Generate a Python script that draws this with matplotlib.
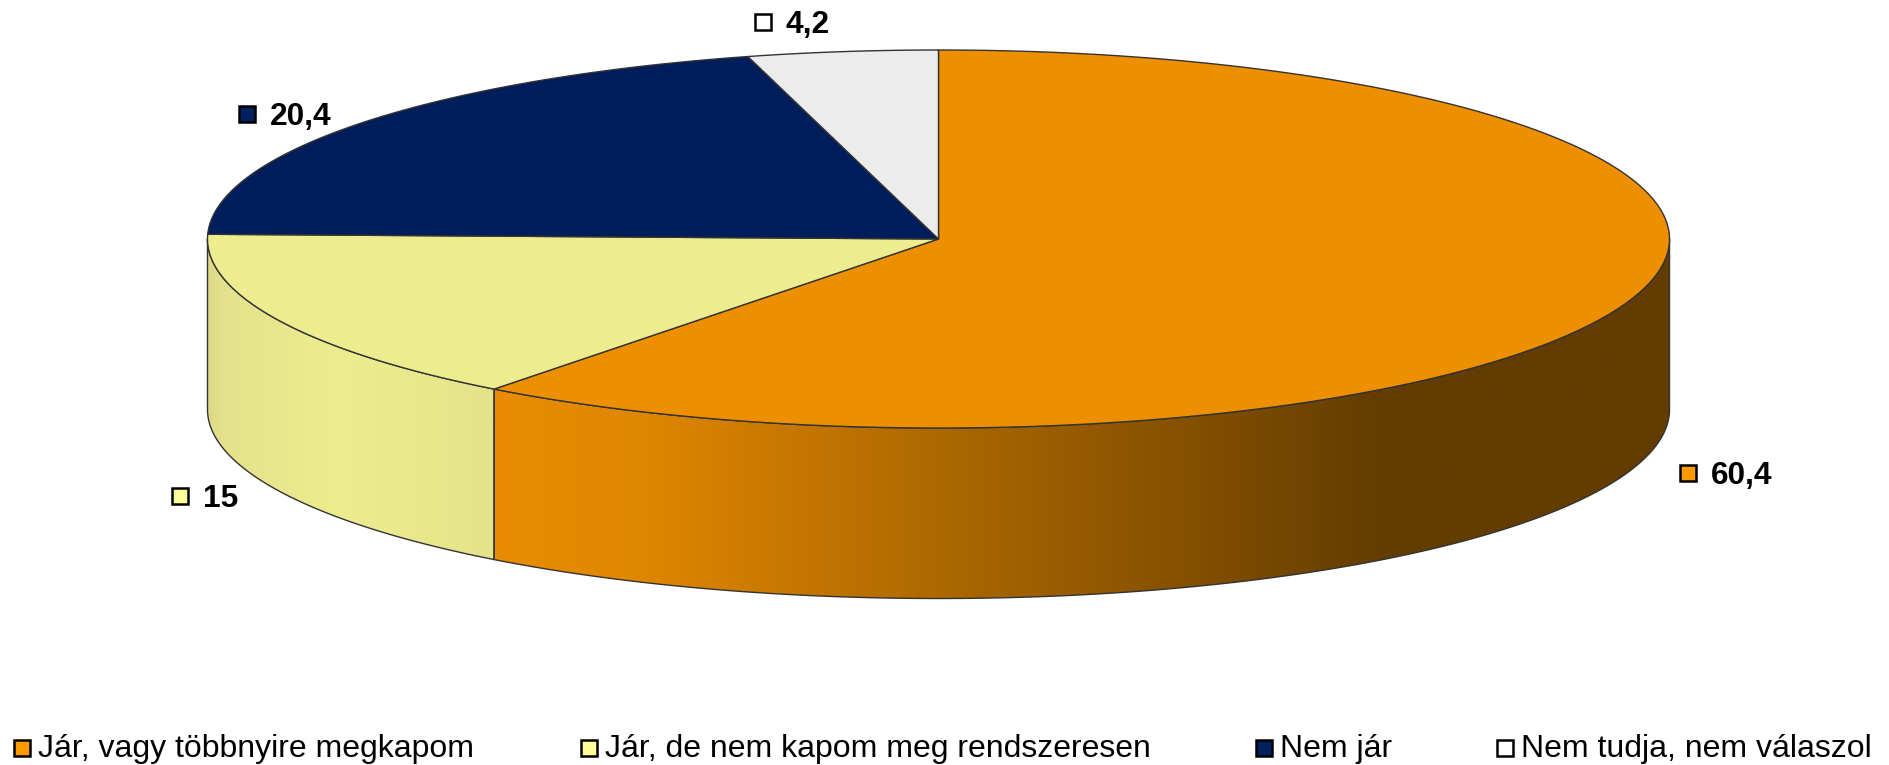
#!/usr/bin/env python

import matplotlib
matplotlib.use("Agg")
import matplotlib.pyplot as plt
import numpy as np
from matplotlib.colors import LinearSegmentedColormap
from matplotlib.patches import Polygon, Rectangle

plt.rcParams["font.family"] = ["Liberation Sans", "DejaVu Sans"]

categories = ["Jár, vagy többnyire megkapom", "Jár, de nem kapom meg rendszeresen", "Nem jár", "Nem tudja, nem válaszol"]
values = [60.4, 15, 20.4, 4.2]

top_colors = ["#EE8F00", "#EDED8F", "#001D5B", "#ECECEC"]
key_colors = ["#FF9900", "#FFFF99", "#002060", "#FFFFFF"]

# pie geometry in pixels
CX, CY = 938.5, 239
RX, RY = 731, 189
DEPTH = 170.5
EDGE = "#333333"

# pixel positions of the keys next to the value labels (x, y of the key centre)
label_pos = [(1688, 472.5), (180, 495.5), (246.5, 113.5), (763, 22)]
legend_x = [14, 581, 1256, 1497]
LEGEND_Y = 748


def ellipse_xy(t):
    # t in degrees, clockwise from the top of the pie
    r = np.radians(t)
    return CX + RX * np.sin(r), CY - RY * np.cos(r)


def side_gradient(ax, poly, x0, x1, stops):
    cmap = LinearSegmentedColormap.from_list("side", stops)
    grad = np.linspace(0, 1, 1024).reshape(1, -1)
    im = ax.imshow(grad, cmap=cmap, vmin=0, vmax=1, aspect="auto",
                   extent=(x0, x1, CY + RY + DEPTH + 5, CY - RY), zorder=1)
    im.set_clip_path(poly)


def draw_side(ax, t0, t1, stops):
    t = np.linspace(t0, t1, 300)
    x, y = ellipse_xy(t)
    pts = np.concatenate([np.column_stack([x, y]),
                          np.column_stack([x[::-1], y[::-1] + DEPTH])])
    poly = Polygon(pts, closed=True, facecolor="none", edgecolor=EDGE, lw=1, zorder=2)
    ax.add_patch(poly)
    side_gradient(ax, poly, x.min(), x.max(), stops)


def draw_top(ax, t0, t1, color):
    t = np.linspace(t0, t1, 300)
    x, y = ellipse_xy(t)
    pts = np.vstack([[CX, CY], np.column_stack([x, y])])
    ax.add_patch(Polygon(pts, closed=True, facecolor=color, edgecolor=EDGE, lw=1, zorder=3))


def main():
    fig = plt.figure(figsize=(18.9, 7.65), dpi=100)
    ax = fig.add_axes([0, 0, 1, 1])

    bounds = np.concatenate([[0], np.cumsum(values)]) / np.sum(values) * 360

    # only the front half of the rim is visible
    draw_side(ax, 90, bounds[1], [(0.0, "#E98C00"), (0.12, "#E08700"), (0.76, "#633C00"), (1.0, "#633C00")])
    draw_side(ax, bounds[1], 270, [(0.0, "#DCDA88"), (0.06, "#E4E28B"), (0.45, "#EDED8F"), (1.0, "#E5E38A")])

    for i in range(len(values)):
        draw_top(ax, bounds[i], bounds[i + 1], top_colors[i])

    # value labels with their keys
    for (kx, ky), v, c in zip(label_pos, values, key_colors):
        ax.add_patch(Rectangle((kx - 8, ky - 8), 16, 16, facecolor=c, edgecolor="black", lw=1.8, zorder=4))
        ax.text(kx + 23, ky + 3, f"{v:g}".replace(".", ","), fontsize=22.8, fontweight="bold",
                ha="left", va="center", color="black", zorder=4)

    # legend along the bottom
    for lx, name, c in zip(legend_x, categories, key_colors):
        ax.add_patch(Rectangle((lx, LEGEND_Y - 8), 16, 16, facecolor=c, edgecolor="black", lw=1.8, zorder=4))
        ax.text(lx + 24, LEGEND_Y + 1, name, fontsize=23, ha="left", va="center", color="black", zorder=4)

    ax.set_xlim(0, 1890)
    ax.set_ylim(765, 0)
    ax.axis("off")

    fig.savefig("out.png", dpi=100, facecolor="white")
    plt.close(fig)


if __name__ == "__main__":
    main()
